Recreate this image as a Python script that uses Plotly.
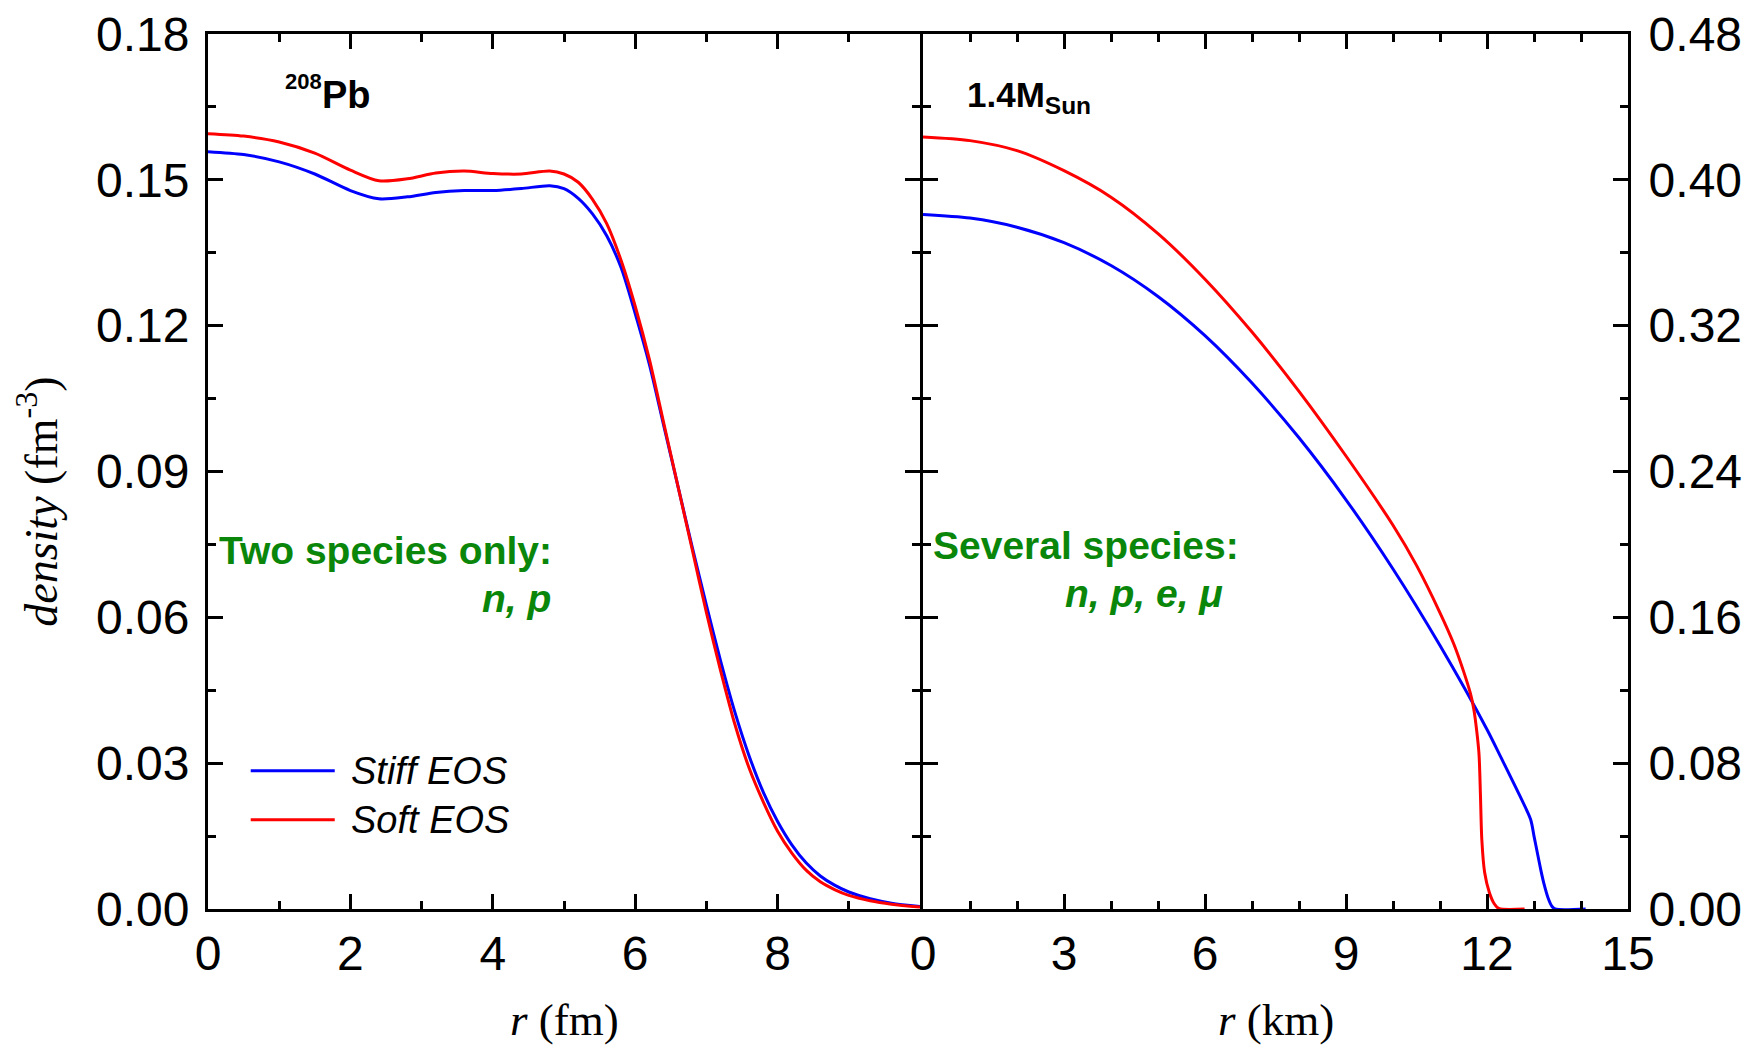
import plotly.graph_objects as go

# ---------------- data ----------------
# Left panel: 208Pb density profile, r in fm
pb_r = [0.0, 0.5, 1.0, 1.5, 2.0, 2.4, 2.8, 3.2, 3.6, 4.0, 4.4, 4.8, 5.0, 5.2, 5.4, 5.6, 5.8,
        6.0, 6.2, 6.4, 6.6, 6.8, 7.0, 7.2, 7.4, 7.6, 7.8, 8.0, 8.2, 8.4, 8.6, 8.8, 9.0, 9.3, 9.6, 10.0]
pb_stiff = [0.1558, 0.1552, 0.1537, 0.1512, 0.1478, 0.1461, 0.1465, 0.1474, 0.1478, 0.1478, 0.1482,
            0.1488, 0.1482, 0.1462, 0.1430, 0.1385, 0.1320, 0.1225, 0.1120, 0.0995, 0.0870, 0.0745,
            0.0625, 0.0510, 0.0405, 0.0315, 0.0240, 0.0180, 0.0132, 0.0095, 0.0068, 0.0049, 0.0035,
            0.0021, 0.0012, 0.0005]
pb_soft = [0.1595, 0.1590, 0.1578, 0.1555, 0.1520, 0.1498, 0.1502, 0.1514, 0.1518, 0.1513, 0.1512,
           0.1518, 0.1512, 0.1495, 0.1460, 0.1410, 0.1335, 0.1240, 0.1130, 0.1000, 0.0870, 0.0740,
           0.0610, 0.0490, 0.0380, 0.0290, 0.0220, 0.0160, 0.0115, 0.0080, 0.0056, 0.0040, 0.0028,
           0.0017, 0.0010, 0.0004]

# Right panel: 1.4 M_sun neutron star, r in km
ns_r_stiff = [0.0, 1.0, 2.0, 3.0, 4.0, 5.0, 6.0, 7.0, 8.0, 9.0, 10.0, 11.0, 12.0,
              12.3, 12.7, 12.93, 13.0, 13.07, 13.14, 13.21, 13.3, 13.38, 13.45, 14.1]
ns_stiff = [0.381, 0.379, 0.374, 0.3655, 0.353, 0.336, 0.3145, 0.2885, 0.2585, 0.2245, 0.1865,
            0.1445, 0.0985, 0.083, 0.062, 0.049, 0.040, 0.031, 0.022, 0.014, 0.006, 0.0015, 0.0, 0.0]
ns_r_soft = [0.0, 1.0, 2.0, 3.0, 4.0, 5.0, 6.0, 7.0, 8.0, 9.0, 10.0, 10.5, 11.0, 11.3, 11.5,
             11.65, 11.72, 11.78, 11.83, 11.86, 11.89, 11.95, 12.05, 12.15, 12.25, 12.8]
ns_soft = [0.4235, 0.4215, 0.416, 0.405, 0.3905, 0.3705, 0.3455, 0.3165, 0.284, 0.2485, 0.2105,
           0.1885, 0.1625, 0.145, 0.1305, 0.118, 0.1095, 0.098, 0.085, 0.063, 0.038, 0.020, 0.009,
           0.003, 0.0003, 0.0]

left_xticks = [0, 2, 4, 6, 8]
right_xticks = [0, 3, 6, 9, 12, 15]

BLUE = "#0000ff"
RED = "#ff0000"
GREEN = "#0a860a"
SANS = "Liberation Sans, Arial, sans-serif"
SERIF = "Liberation Serif, Times New Roman, serif"

fig = go.Figure()
fig.add_trace(go.Scatter(x=pb_r, y=pb_stiff, mode="lines", name="Stiff EOS",
                         line=dict(color=BLUE, width=3, shape="spline", smoothing=0.8),
                         xaxis="x", yaxis="y", showlegend=False))
fig.add_trace(go.Scatter(x=pb_r, y=pb_soft, mode="lines", name="Soft EOS",
                         line=dict(color=RED, width=3, shape="spline", smoothing=0.8),
                         xaxis="x", yaxis="y", showlegend=False))
fig.add_trace(go.Scatter(x=ns_r_stiff, y=ns_stiff, mode="lines", name="Stiff EOS",
                         line=dict(color=BLUE, width=3, shape="spline", smoothing=0.8),
                         xaxis="x2", yaxis="y2", showlegend=False))
fig.add_trace(go.Scatter(x=ns_r_soft, y=ns_soft, mode="lines", name="Soft EOS",
                         line=dict(color=RED, width=3, shape="spline", smoothing=0.8),
                         xaxis="x2", yaxis="y2", showlegend=False))

tickfont = dict(family=SANS, size=48, color="black")
common = dict(showline=True, linewidth=3, linecolor="black", mirror="ticks",
              ticks="inside", ticklen=15, tickwidth=2.5, tickcolor="black",
              showgrid=False, zeroline=False, tickfont=tickfont,
              ticklabeloverflow="allow", automargin=False)

W, H = 1741, 1041   # page body has an 8px margin
ML, MR, MT, MB = 200, 121, 26, 140
PW = W - ML - MR
split = 712 / PW
split2 = split + 3 / PW

fig.update_layout(
    width=W, height=H,
    margin=dict(l=ML, r=MR, t=MT, b=MB, autoexpand=False),
    paper_bgcolor="white", plot_bgcolor="white",
    xaxis=dict(domain=[0, split], range=[0, 10], tickvals=left_xticks, anchor="y",
               minor=dict(ticks="inside", dtick=1, ticklen=8, tickwidth=2.5, tickcolor="black"),
               ticklabelstandoff=0, **common),
    yaxis=dict(domain=[0, 1], range=[0, 0.18], dtick=0.03, tickformat=".2f", anchor="x",
               minor=dict(ticks="inside", dtick=0.015, ticklen=8, tickwidth=2.5, tickcolor="black"),
               ticklabelstandoff=6, **common),
    xaxis2=dict(domain=[split2, 1], range=[0, 15], tickvals=right_xticks, anchor="y2",
                minor=dict(ticks="inside", dtick=1, ticklen=8, tickwidth=2.5, tickcolor="black"),
                ticklabelstandoff=0, **common),
    yaxis2=dict(domain=[0, 1], range=[0, 0.48], dtick=0.08, tickformat=".2f", anchor="x2",
                side="right",
                minor=dict(ticks="inside", dtick=0.04, ticklen=8, tickwidth=2.5, tickcolor="black"),
                ticklabelstandoff=8, **common),
)

ann = []
# axis titles
ann.append(dict(text="<i>r</i> (fm)", xref="x domain", yref="paper", x=0.5, y=-0.127,
                xanchor="center", yanchor="middle", showarrow=False,
                font=dict(family=SERIF, size=45, color="black")))
ann.append(dict(text="<i>r</i> (km)", xref="x2 domain", yref="paper", x=0.5, y=-0.127,
                xanchor="center", yanchor="middle", showarrow=False,
                font=dict(family=SERIF, size=45, color="black")))
ann.append(dict(text="<i>density</i> (fm<sup>-3</sup>)", xref="paper", yref="paper",
                x=-0.120, y=0.465, xanchor="center", yanchor="middle", textangle=-90,
                showarrow=False, font=dict(family=SERIF, size=46, color="black")))
# panel labels
ann.append(dict(text="<b>208</b>", xref="x domain", yref="y domain",
                x=0.105, y=0.946, xanchor="left", yanchor="middle", showarrow=False,
                font=dict(family=SANS, size=22, color="black")))
ann.append(dict(text="<b>Pb</b>", xref="x domain", yref="y domain",
                x=0.157, y=0.930, xanchor="left", yanchor="middle", showarrow=False,
                font=dict(family=SANS, size=38, color="black")))
ann.append(dict(text="<b>1.4M<sub>Sun</sub></b>", xref="x2 domain", yref="y2 domain",
                x=0.060, y=0.928, xanchor="left", yanchor="middle", showarrow=False,
                font=dict(family=SANS, size=35, color="black")))
# green notes
ann.append(dict(text="<b>Two species only:</b>", xref="x domain", yref="y domain",
                x=0.012, y=0.410, xanchor="left", yanchor="middle", showarrow=False,
                font=dict(family=SANS, size=39, color=GREEN)))
ann.append(dict(text="<b><i>n, p</i></b>", xref="x domain", yref="y domain",
                x=0.484, y=0.355, xanchor="right", yanchor="middle", showarrow=False,
                font=dict(family=SANS, size=39, color=GREEN)))
ann.append(dict(text="<b>Several species:</b>", xref="x2 domain", yref="y2 domain",
                x=0.012, y=0.416, xanchor="left", yanchor="middle", showarrow=False,
                font=dict(family=SANS, size=39, color=GREEN)))
ann.append(dict(text="<b><i>n, p, e, μ</i></b>", xref="x2 domain", yref="y2 domain",
                x=0.199, y=0.361, xanchor="left", yanchor="middle", showarrow=False,
                font=dict(family=SANS, size=39, color=GREEN)))
# legend text
ann.append(dict(text="<i>Stiff EOS</i>", xref="x domain", yref="y domain",
                x=0.198, y=0.158, xanchor="left", yanchor="middle", showarrow=False,
                font=dict(family=SANS, size=38, color="black")))
ann.append(dict(text="<i>Soft EOS</i>", xref="x domain", yref="y domain",
                x=0.198, y=0.102, xanchor="left", yanchor="middle", showarrow=False,
                font=dict(family=SANS, size=38, color="black")))
fig.update_layout(annotations=ann)

# legend keys
fig.add_shape(type="line", xref="x domain", yref="y domain", x0=0.060, x1=0.178, y0=0.158, y1=0.158,
              line=dict(color=BLUE, width=3))
fig.add_shape(type="line", xref="x domain", yref="y domain", x0=0.060, x1=0.178, y0=0.102, y1=0.102,
              line=dict(color=RED, width=3))

fig.write_html("out.html")
